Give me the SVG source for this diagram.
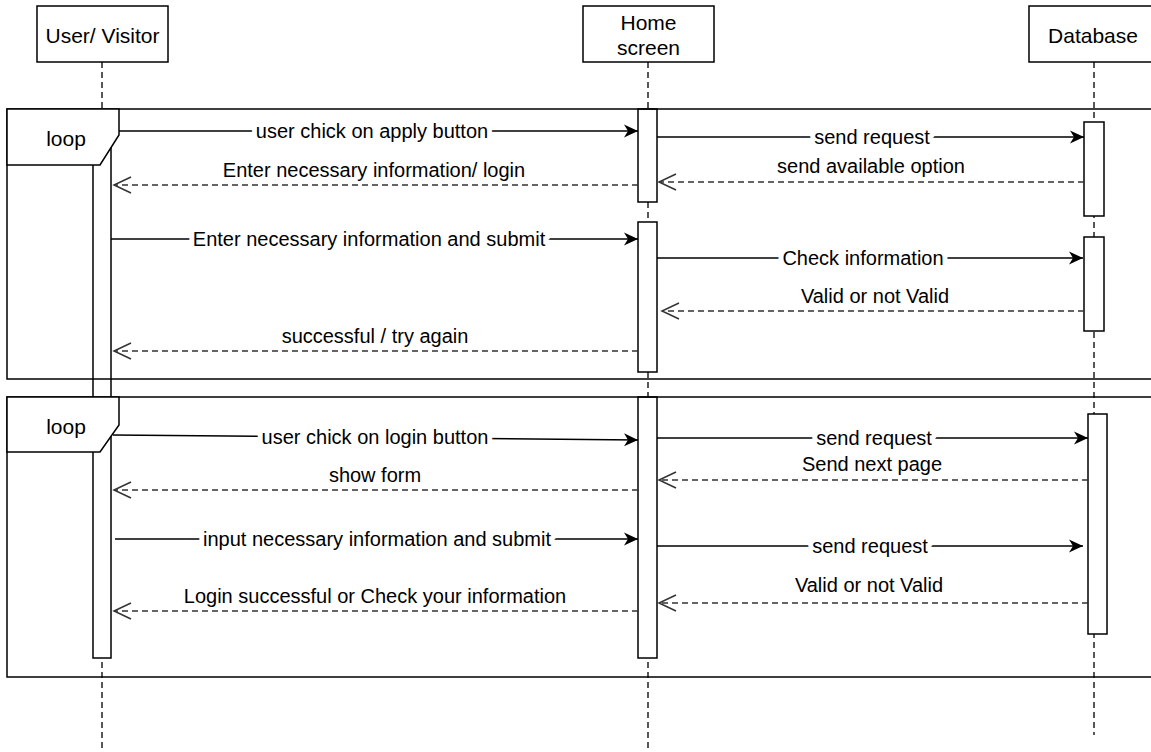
<svg xmlns="http://www.w3.org/2000/svg" width="1151" height="752" viewBox="0 0 1151 752">
<style>
.box{fill:#fff;stroke:#000;stroke-width:1.5}
.life{fill:none;stroke:#222;stroke-width:1.5;stroke-dasharray:6 4}
.act{fill:#fff;stroke:#000;stroke-width:1.5}
.frame{fill:none;stroke:#000;stroke-width:1.5}
.tab{fill:#fff;stroke:#000;stroke-width:1.5}
.lbl{font-family:"Liberation Sans",Arial,sans-serif;font-size:21px;fill:#000;text-anchor:middle}
.msg{font-family:"Liberation Sans",Arial,sans-serif;font-size:20px;fill:#000;text-anchor:middle}
.inl{stroke:#fff;stroke-width:10;paint-order:stroke;stroke-linejoin:round}
.call{fill:none;stroke:#000;stroke-width:1.5;marker-end:url(#block)}
.ret{fill:none;stroke:#333;stroke-width:1.5;stroke-dasharray:6 4;marker-end:url(#open)}
</style>
<defs>
<marker id="block" markerUnits="userSpaceOnUse" markerWidth="15" markerHeight="14" viewBox="0 0 15 14" refX="14" refY="7" orient="auto">
<path d="M0,0.5 L14,7 L0,13.5 L4,7 Z" fill="#000"/>
</marker>
<marker id="open" markerUnits="userSpaceOnUse" markerWidth="20" markerHeight="20" viewBox="0 0 20 20" refX="18" refY="10" orient="auto">
<path d="M1,2 L18,10 L1,18" fill="none" stroke="#333" stroke-width="1.5"/>
</marker>
</defs>

<g id="user">
<line class="life" x1="102" y1="62" x2="102" y2="752"/>
<rect class="box" x="37" y="6" width="131" height="56"/>
<text class="lbl" x="102.5" y="42.5">User/ Visitor</text>
<rect class="act" x="93" y="125" width="18" height="533"/>
</g>

<g id="home">
<line class="life" x1="648" y1="62" x2="648" y2="752"/>
<rect class="box" x="583" y="6" width="131" height="56"/>
<text class="lbl" x="648.5" y="30">Home</text>
<text class="lbl" x="648.5" y="55">screen</text>
<rect class="act" x="638" y="109" width="19" height="93"/>
<rect class="act" x="638" y="222" width="19" height="150"/>
<rect class="act" x="638" y="397" width="19" height="261"/>
</g>

<g id="database">
<line class="life" x1="1094" y1="62" x2="1094" y2="735"/>
<rect class="box" x="1029" y="6" width="130" height="56"/>
<text class="lbl" x="1093" y="42.5">Database</text>
<rect class="act" x="1084" y="122" width="20" height="94"/>
<rect class="act" x="1084" y="237" width="20" height="94"/>
<rect class="act" x="1088" y="414" width="19" height="220"/>
</g>

<g id="connectors">
<line class="call" x1="111" y1="131" x2="638" y2="131"/>
<text class="msg inl" x="372" y="138">user chick on apply button</text>
<line class="call" x1="657" y1="137" x2="1084" y2="137"/>
<text class="msg inl" x="872" y="144">send request</text>
<line class="ret" x1="1084" y1="182" x2="659" y2="182"/>
<text class="msg" x="871" y="173">send available option</text>
<line class="ret" x1="638" y1="185" x2="114" y2="185"/>
<text class="msg" x="374" y="177">Enter necessary information/ login</text>

<line class="call" x1="111" y1="239" x2="638" y2="239"/>
<text class="msg inl" x="369" y="246">Enter necessary information and submit</text>
<line class="call" x1="657" y1="258" x2="1083" y2="258"/>
<text class="msg inl" x="863" y="265">Check information</text>
<line class="ret" x1="1084" y1="311" x2="662" y2="311"/>
<text class="msg" x="875" y="303">Valid or not Valid</text>
<line class="ret" x1="638" y1="351" x2="114" y2="351"/>
<text class="msg" x="375" y="343">successful / try again</text>

<line class="call" x1="113" y1="435" x2="638" y2="440"/>
<text class="msg inl" x="375" y="444">user chick on login button</text>
<line class="call" x1="657" y1="438" x2="1088" y2="438"/>
<text class="msg inl" x="874" y="445">send request</text>
<line class="ret" x1="1088" y1="480" x2="659" y2="480"/>
<text class="msg" x="872" y="471">Send next page</text>
<line class="ret" x1="638" y1="490" x2="114" y2="490"/>
<text class="msg" x="375" y="482">show form</text>

<line class="call" x1="115" y1="539" x2="638" y2="539"/>
<text class="msg inl" x="377" y="546">input necessary information and submit</text>
<line class="call" x1="657" y1="546" x2="1083" y2="546"/>
<text class="msg inl" x="870" y="553">send request</text>
<line class="ret" x1="1088" y1="603" x2="659" y2="603"/>
<text class="msg" x="869" y="592">Valid or not Valid</text>
<line class="ret" x1="638" y1="611" x2="114" y2="611"/>
<text class="msg" x="375" y="603">Login successful or Check your information</text>
</g>

<g id="loop1">
<rect class="frame" x="7" y="109" width="1160" height="270"/>
<path class="tab" d="M7,109 H119 V135 L100,165 H7 Z"/>
<text class="lbl" x="66" y="146">loop</text>
</g>

<g id="loop2">
<rect class="frame" x="7" y="397" width="1160" height="280"/>
<path class="tab" d="M7,397 H119 V425 L100,452 H7 Z"/>
<text class="lbl" x="66" y="434">loop</text>
</g>
</svg>
